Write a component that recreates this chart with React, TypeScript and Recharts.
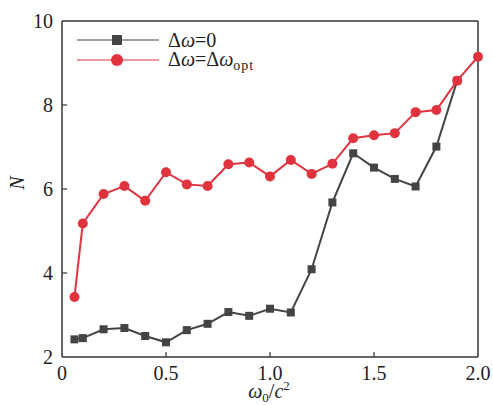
import React from "react";
import {
  LineChart,
  Line,
  XAxis,
  YAxis,
  Legend,
  ReferenceLine,
} from "recharts";

const X_VALUES = [0.06, 0.1, 0.2, 0.3, 0.4, 0.5, 0.6, 0.7, 0.8, 0.9, 1.0, 1.1, 1.2, 1.3, 1.4, 1.5, 1.6, 1.7, 1.8, 1.9, 2.0];
const N_ZERO = [2.42, 2.45, 2.66, 2.69, 2.5, 2.35, 2.64, 2.79, 3.07, 2.98, 3.15, 3.06, 4.09, 5.68, 6.85, 6.51, 6.24, 6.06, 7.01, 8.58];
const N_OPT = [3.43, 5.18, 5.88, 6.07, 5.72, 6.4, 6.11, 6.07, 6.59, 6.63, 6.3, 6.69, 6.36, 6.6, 7.21, 7.28, 7.33, 7.83, 7.88, 8.58, 9.15];
const X_TICKS = [0, 0.5, 1.0, 1.5, 2.0];
const Y_TICKS = [2, 4, 6, 8, 10];

const GREY = "#444444";
const RED = "#e0333e";
const AXIS = "#333333";
const FONT = "'Times New Roman', 'Liberation Serif', Times, serif";

const data = X_VALUES.map((x, i) => ({
  x,
  zero: i < N_ZERO.length ? N_ZERO[i] : undefined,
  opt: N_OPT[i],
}));

const XTick = (props: any) => {
  const { x, y, payload } = props;
  const v = payload.value as number;
  return (
    <g>
      {v > 0 && v < 2 && <line x1={x} x2={x} y1={y} y2={y - 5} stroke={AXIS} strokeWidth={1.2} />}
      <text x={x} y={y + 23} textAnchor="middle" fontFamily={FONT} fontSize={20} fill="#222">
        {v === 0 ? "0" : v.toFixed(1)}
      </text>
    </g>
  );
};

const YTick = (props: any) => {
  const { x, y, payload } = props;
  const v = payload.value as number;
  return (
    <g>
      {v > 2 && v < 10 && <line x1={x} x2={x + 5} y1={y} y2={y} stroke={AXIS} strokeWidth={1.2} />}
      <text x={x - 9} y={y + 7} textAnchor="end" fontFamily={FONT} fontSize={20} fill="#222">
        {v}
      </text>
    </g>
  );
};

const XLabel = (props: any) => {
  const { viewBox } = props;
  const cx = viewBox.x + viewBox.width / 2;
  return (
    <text x={cx - 1} y={viewBox.y + 41} textAnchor="middle" fontFamily={FONT} fontSize={20} fill="#222">
      <tspan fontStyle="italic">ω</tspan>
      <tspan fontSize={13} dy={4}>0</tspan>
      <tspan dy={-4}>/</tspan>
      <tspan fontStyle="italic">c</tspan>
      <tspan fontSize={13} dy={-8}>2</tspan>
    </text>
  );
};

const YLabel = () => (
  <text
    x={17}
    y={183}
    transform="rotate(-90 17 183)"
    textAnchor="middle"
    dominantBaseline="central"
    fontFamily={FONT}
    fontSize={20}
    fontStyle="italic"
    fill="#222"
  >
    N
  </text>
);

const SquareDot = (props: any) => {
  const { cx, cy, index } = props;
  if (cx == null || cy == null) return <g key={`s${index}`} />;
  return <rect key={`s${index}`} x={cx - 4} y={cy - 4} width={8} height={8} fill={GREY} />;
};

const CircleDot = (props: any) => {
  const { cx, cy, index } = props;
  if (cx == null || cy == null) return <g key={`c${index}`} />;
  return <circle key={`c${index}`} cx={cx} cy={cy} r={5} fill={RED} />;
};

const LegendContent = () => {
  const row = (color: string, marker: React.ReactNode, label: React.ReactNode) => (
    <div style={{ display: "flex", alignItems: "center", height: 20 }}>
      <svg width={82} height={20}>
        <line x1={0} x2={82} y1={10} y2={10} stroke={color} strokeWidth={1.2} />
        {marker}
      </svg>
      <span style={{ marginLeft: 9, fontFamily: FONT, fontSize: 20, color: "#222", lineHeight: "20px", whiteSpace: "nowrap" }}>
        {label}
      </span>
    </div>
  );
  return (
    <div>
      {row(GREY, <rect x={35} y={5} width={10} height={10} fill={GREY} />, <>Δ<i>ω</i>=0</>)}
      {row(
        RED,
        <circle cx={40} cy={10} r={6} fill={RED} />,
        <>
          Δ<i>ω</i>=Δ<i>ω</i>
          <span style={{ fontSize: 14, letterSpacing: 1, position: "relative", top: 4 }}>opt</span>
        </>
      )}
    </div>
  );
};

export default function App() {
  return (
    <div style={{ position: "absolute", left: 0, top: 0, width: 493, height: 405 }}>
      <LineChart width={493} height={405} data={data} margin={{ top: 21, right: 15, bottom: 18, left: 22 }}>
        <XAxis
          dataKey="x"
          type="number"
          domain={[0, 2]}
          ticks={X_TICKS}
          tickSize={0}
          tickMargin={0}
          tickLine={false}
          height={30}
          tick={<XTick />}
          stroke={AXIS}
          strokeWidth={1.5}
          label={<XLabel />}
          interval={0}
        />
        <YAxis
          type="number"
          domain={[2, 10]}
          ticks={Y_TICKS}
          tickSize={0}
          tickMargin={0}
          tickLine={false}
          width={40}
          tick={<YTick />}
          stroke={AXIS}
          strokeWidth={1.5}
          label={<YLabel />}
          interval={0}
        />
        <ReferenceLine y={10} stroke={AXIS} strokeWidth={1.5} />
        <ReferenceLine x={2} stroke={AXIS} strokeWidth={1.5} />
        <Legend
          layout="vertical"
          align="center"
          verticalAlign="middle"
          content={<LegendContent />}
          wrapperStyle={{ position: "absolute", left: 77, top: 30, width: "auto", height: "auto" }}
        />
        <Line
          dataKey="zero"
          stroke={GREY}
          strokeWidth={2}
          dot={<SquareDot />}
          activeDot={false}
          isAnimationActive={false}
        />
        <Line
          dataKey="opt"
          stroke={RED}
          strokeWidth={2}
          dot={<CircleDot />}
          activeDot={false}
          isAnimationActive={false}
        />
      </LineChart>
    </div>
  );
}
